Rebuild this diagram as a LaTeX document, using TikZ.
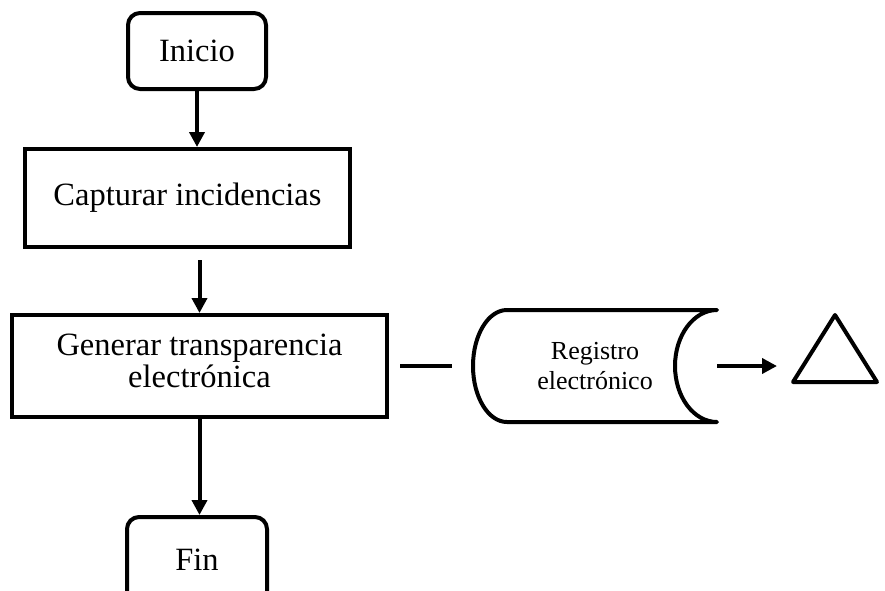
\documentclass[tikz,border=0pt]{standalone}
\usepackage{fontspec}
\setmainfont{Liberation Serif}
\usetikzlibrary{arrows.meta, positioning, calc}

\begin{document}
\begin{tikzpicture}[
  x=1pt, y=-1pt,
  font=\fontsize{32.5}{32}\selectfont,
  caja/.style={draw=black, line width=4pt, fill=white, align=center, inner sep=0pt},
  terminal/.style={caja, rounded corners=12pt},
  borde/.style={draw=black, line width=4pt, line join=round},
  flecha/.style={draw=black, line width=4pt, -{Triangle[length=15pt,width=15pt]}},
  linea/.style={draw=black, line width=4pt}
]
\useasboundingbox (0,0) rectangle (885,590);

% ---- flujo principal --------------------------------------------------
\node[terminal, minimum width=138pt, minimum height=76pt] (inicio) at (197,51) {Inicio};
\node[caja, minimum width=325pt, minimum height=98pt] (captura) at (187.5,198) {Capturar incidencias};
\node[caja, minimum width=375pt, minimum height=102pt, text depth=10pt] (generar) at (199.5,366)
  {Generar transparencia\\ electrónica};
\node[terminal, minimum width=140pt, minimum height=86pt] (fin) at (197,560) {Fin};

\draw[flecha] (inicio.south) -- (inicio.south |- captura.north);
\draw[flecha, shorten <=11pt] (captura.south -| generar) -- (generar.north);
\draw[flecha] (generar.south) -- (generar.south |- fin.north);

%==============================================================
% Registro electronico
%==============================================================
\draw[borde] (507,310) -- (717,310)
  arc[start angle=270, end angle=90, x radius=42, y radius=56]
  -- (507,422)
  arc[start angle=90, end angle=270, x radius=34, y radius=56] -- cycle;
\node[minimum width=244pt, minimum height=112pt, align=center, inner sep=0pt,
  font=\fontsize{26}{30}\selectfont] (registro) at (595,366) {Registro\\ electrónico};

\draw[borde] (793,382) -- (835,315) -- (877,382) -- cycle;
\coordinate (archivo) at (777,366);

\draw[linea, shorten <=11pt, shorten >=21pt] (generar.east) -- (registro.west);
\draw[flecha] (registro.east) -- (archivo);

\end{tikzpicture}
\end{document}
